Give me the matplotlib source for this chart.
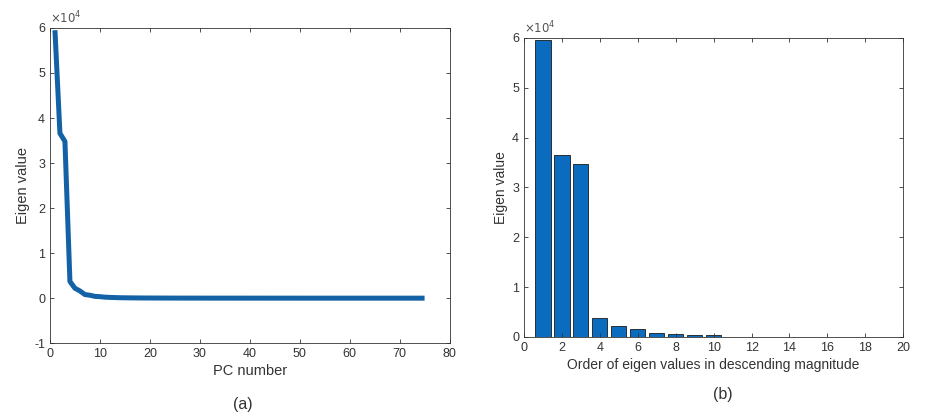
import matplotlib.pyplot as plt
import matplotlib.ticker as mticker

plt.rcParams['font.family'] = ['Liberation Sans', 'DejaVu Sans']

# eigen values (descending order)
eigen_values = [
    59500, 36600, 34800, 3700, 2200, 1600, 800, 650, 400, 330,
    220, 170, 130, 100, 80, 65, 55, 45, 38, 32,
    28, 24, 21, 18, 16, 14, 12, 11, 10, 9,
    8, 7, 6, 6, 5, 5, 4, 4, 4, 3,
    3, 3, 3, 2, 2, 2, 2, 2, 2, 1,
    1, 1, 1, 1, 1, 1, 1, 1, 1, 1,
    1, 1, 1, 1, 0, 0, 0, 0, 0, 0,
    0, 0, 0, 0, 0,
]
pc_numbers = list(range(1, len(eigen_values) + 1))

# only the first ten bars are visible in panel (b)
n_bars = 10
bar_positions = pc_numbers[:n_bars]
bar_values = eigen_values[:n_bars]

text_col = '#333333'
spine_col = '#333333'


def matlab_style(ax):
    for s in ax.spines.values():
        s.set_color(spine_col)
        s.set_linewidth(0.6)
    ax.tick_params(direction='in', top=True, right=True, length=3, width=0.6,
                   colors=spine_col, labelcolor=text_col, labelsize=9)
    ax.yaxis.set_major_formatter(mticker.FuncFormatter(lambda v, p: f'{v / 1e4:g}'))
    ax.text(0.0, 1.005, r'$\times10^4$', transform=ax.transAxes, fontsize=8.5,
            color='#555555', ha='left', va='bottom')


fig = plt.figure(figsize=(9.25, 4.17), dpi=100)

# (a) line plot
ax1 = fig.add_axes([0.054, 0.177, 0.432, 0.756])
ax1.plot(pc_numbers, eigen_values, color='#1462A6', linewidth=3.6, solid_capstyle='butt')
ax1.set_xlim(0, 80)
ax1.set_ylim(-1e4, 6e4)
ax1.set_xticks(range(0, 81, 10))
ax1.set_yticks([i * 1e4 for i in range(-1, 7)])
ax1.set_xlabel('PC number', fontsize=10.5, color=text_col, labelpad=3)
ax1.set_ylabel('Eigen value', fontsize=10.5, color=text_col, labelpad=3)
matlab_style(ax1)

# (b) bar plot
ax2 = fig.add_axes([0.5665, 0.192, 0.41, 0.717])
ax2.bar(bar_positions, bar_values, width=0.8, color='#0B6CBF', edgecolor='#1a1a1a', linewidth=0.6)
ax2.set_xlim(0, 20)
ax2.set_ylim(0, 6e4)
ax2.set_xticks(range(0, 21, 2))
ax2.set_yticks([i * 1e4 for i in range(0, 7)])
ax2.set_xlabel('Order of eigen values in descending magnitude', fontsize=10, color=text_col, labelpad=3)
ax2.set_ylabel('Eigen value', fontsize=10, color=text_col, labelpad=3)
matlab_style(ax2)

fig.text(243 / 925, 1 - 405 / 417, '(a)', fontsize=11.5, ha='center', va='center', color='#333333')
fig.text(723 / 925, 1 - 395 / 417, '(b)', fontsize=11.5, ha='center', va='center', color='#333333')

fig.savefig('out.png', dpi=100)
